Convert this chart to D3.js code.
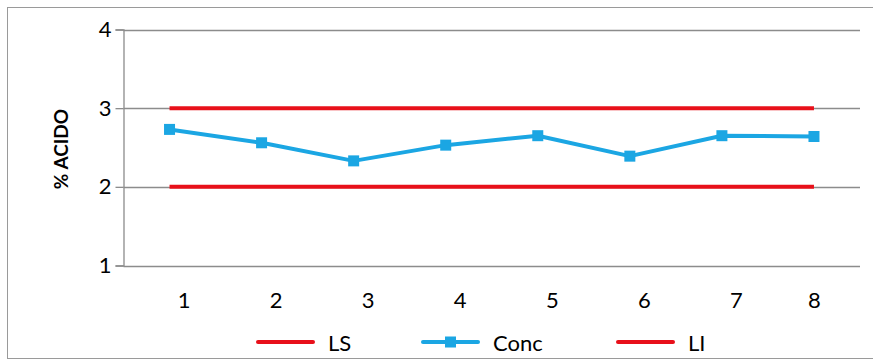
<!DOCTYPE html>
<html>
<head>
<meta charset="utf-8">
<script src="https://cdn.jsdelivr.net/npm/d3@7/dist/d3.min.js"></script>
<style>
  html, body { margin: 0; padding: 0; background: #fff; }
  svg { display: block; }
  text { font-family: Lato, "Open Sans", sans-serif; fill: #000; }
</style>
</head>
<body>
<svg id="chart" width="873" height="362"></svg>
<script>
// Sample numbers and measured acid concentration
const samples = ["1", "2", "3", "4", "5", "6", "7", "8"];
const conc = [2.73, 2.56, 2.33, 2.53, 2.65, 2.39, 2.65, 2.64];
// Upper and lower control limits
const upperLimit = [3, 3, 3, 3, 3, 3, 3, 3];
const lowerLimit = [2, 2, 2, 2, 2, 2, 2, 2];
const yTicks = [1, 2, 3, 4];
const legendNames = ["LS", "Conc", "LI"];

const RED = "#e8101a";
const BLUE = "#1ba6e3";

const svg = d3.select("#chart");
const W = 873, H = 362;

// Outer chart frame
svg.append("rect")
  .attr("x", 7.5).attr("y", 7.5)
  .attr("width", W + 10).attr("height", 351)
  .attr("fill", "#fff").attr("stroke", "#9a9a9a").attr("stroke-width", 1);

const plot = { left: 123.5, right: 860, top: 29.5, bottom: 265.5 };

const x = d3.scalePoint().domain(samples)
  .range([plot.left, plot.right]).padding(0.5);
const y = d3.scaleLinear().domain([1, 4]).range([plot.bottom, plot.top]);

// Horizontal gridlines
svg.append("g")
  .selectAll("line").data(yTicks).join("line")
  .attr("x1", plot.left).attr("x2", plot.right)
  .attr("y1", d => Math.round(y(d)) + 0.5).attr("y2", d => Math.round(y(d)) + 0.5)
  .attr("stroke", "#8c8c8c").attr("stroke-width", 1.3);

// Y axis
const yAxis = svg.append("g")
  .attr("transform", `translate(${plot.left},0)`)
  .call(d3.axisLeft(y).tickValues(yTicks).tickFormat(d3.format("d")).tickSize(8).tickPadding(4));
yAxis.select(".domain").attr("stroke", "#8c8c8c").attr("stroke-width", 1.3);
yAxis.selectAll(".tick line").attr("stroke", "#8c8c8c").attr("stroke-width", 1.3);
yAxis.selectAll(".tick text")
  .attr("font-size", 22).attr("font-family", "Lato, sans-serif").attr("fill", "#000");

// X axis labels (no axis line)
const xAxis = svg.append("g")
  .attr("transform", `translate(0,${plot.bottom})`)
  .call(d3.axisBottom(x).tickSize(0).tickPadding(27));
xAxis.select(".domain").remove();
xAxis.selectAll(".tick text")
  .attr("font-size", 22).attr("font-family", "Lato, sans-serif").attr("fill", "#000")
  .attr("dx", (d, i) => i < samples.length - 1 ? 14 : 0);

// Y axis title
svg.append("text")
  .attr("transform", `translate(68,149) rotate(-90)`)
  .attr("text-anchor", "middle")
  .attr("font-size", 19).attr("font-weight", "bold")
  .text("% ACIDO");

const line = d3.line().x((d, i) => x(samples[i])).y(d => y(d));

// Control limits
[upperLimit, lowerLimit].forEach(arr => {
  svg.append("path").datum(arr)
    .attr("d", line).attr("fill", "none")
    .attr("stroke", RED).attr("stroke-width", 4);
});

// Concentration series
svg.append("path").datum(conc)
  .attr("d", line).attr("fill", "none")
  .attr("stroke", BLUE).attr("stroke-width", 4).attr("stroke-linejoin", "round");
svg.append("g").selectAll("rect").data(conc).join("rect")
  .attr("x", (d, i) => x(samples[i]) - 5.5)
  .attr("y", d => y(d) - 5.5)
  .attr("width", 11).attr("height", 11)
  .attr("fill", BLUE);

// Legend
const legendColors = [RED, BLUE, RED];
const legendX = [258, 423, 618];
const legendY = 342;
const lg = svg.append("g");
legendNames.forEach((name, i) => {
  const g = lg.append("g").attr("transform", `translate(${legendX[i]},${legendY})`);
  g.append("line").attr("x1", 0).attr("x2", 55).attr("y1", 0).attr("y2", 0)
    .attr("stroke", legendColors[i]).attr("stroke-width", 4).attr("stroke-linecap", "round");
  if (name === "Conc") {
    g.append("rect").attr("x", 22).attr("y", -5.5).attr("width", 11).attr("height", 11)
      .attr("fill", BLUE);
  }
  g.append("text").attr("x", 70).attr("y", 8.5)
    .attr("font-size", 22).text(name);
});
</script>
</body>
</html>
